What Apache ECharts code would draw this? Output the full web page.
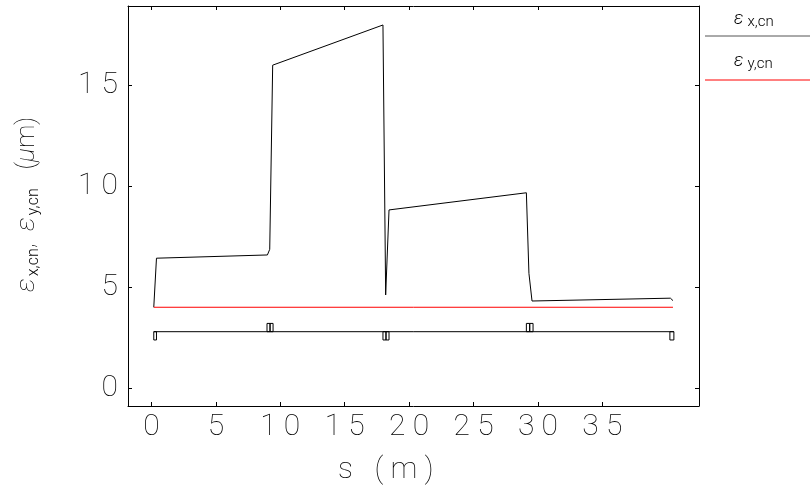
<!DOCTYPE html>
<html><head><meta charset="utf-8">
<script src="https://cdn.jsdelivr.net/npm/echarts@6/dist/echarts.min.js"></script>
<style>html,body{margin:0;padding:0;background:#fff}#c{width:810px;height:487px}</style>
</head><body><div id="c"></div>
<script>
// emittance along the beamline
const sX   = [0.18, 0.39, 9.00, 9.18, 9.41, 17.97, 18.18, 18.44, 29.10, 29.30, 29.54, 40.28, 40.48];
const epsX = [4.01, 6.44, 6.60, 6.88, 16.0, 17.99, 4.62, 8.83, 9.68, 5.69, 4.32, 4.46, 4.34];
const sY   = [0.18, 40.48];
const epsY = [4.01, 4.01];
// lattice elements (quadrupoles): start, end, sign (+ focusing above, - below), number of boxes
const elemStart = [0.18, 8.97, 17.97, 29.10, 40.24];
const elemEnd   = [0.39, 9.44, 18.44, 29.62, 40.55];
const elemSign  = [-1, 1, -1, 1, -1];
const elemParts = [1, 2, 2, 2, 1];
const latticeLevel = 2.80;
const latticeHeight = 0.41;
const xTicks = [0, 5, 10, 15, 20, 25, 30, 35];
const yTicks = [0, 5, 10, 15];

const FONT = 'Roboto';
const chart = echarts.init(document.getElementById('c'), null, {renderer: 'canvas'});
const spaced = v => String(v).split('').join(' ');

const tickStyle = {show: true, inside: true, length: 4, lineStyle: {color: '#000', width: 1}};
const lineStyle = {color: '#000', width: 1};

const elems = elemStart.map((s, i) => [s, elemEnd[i], elemSign[i], elemParts[i]]);

const legendRich = {
  e: {fontFamily: FONT, fontStyle: 'italic', fontWeight: 300, fontSize: 18, fill: '#000', lineHeight: 22},
  s: {fontFamily: FONT, fontWeight: 300, fontSize: 15, fill: '#000', verticalAlign: 'bottom', padding: [0, 0, 0, 4]}
};

chart.setOption({
  animation: false,
  backgroundColor: '#fff',
  grid: {left: 128, top: 6, right: 111, bottom: 81, containLabel: false},
  xAxis: [{
    type: 'value', min: -1.82, max: 42.5, position: 'bottom',
    axisLine: {show: true, onZero: false, lineStyle},
    axisTick: Object.assign({customValues: xTicks}, tickStyle),
    axisLabel: {customValues: xTicks, formatter: spaced, fontFamily: FONT, fontWeight: 100, fontSize: 30, color: '#000', margin: 6},
    splitLine: {show: false}
  }, {
    type: 'value', min: -1.82, max: 42.5, position: 'top',
    axisLine: {show: true, onZero: false, lineStyle},
    axisTick: Object.assign({customValues: xTicks}, tickStyle),
    axisLabel: {show: false},
    splitLine: {show: false}
  }],
  yAxis: [{
    type: 'value', min: -0.88, max: 18.93, position: 'left',
    axisLine: {show: true, onZero: false, lineStyle},
    axisTick: Object.assign({customValues: yTicks}, tickStyle),
    axisLabel: {customValues: yTicks, formatter: spaced, fontFamily: FONT, fontWeight: 100, fontSize: 30, color: '#000', margin: 10},
    splitLine: {show: false}
  }, {
    type: 'value', min: -0.88, max: 18.93, position: 'right',
    axisLine: {show: true, onZero: false, lineStyle},
    axisTick: Object.assign({customValues: yTicks}, tickStyle),
    axisLabel: {show: false},
    splitLine: {show: false}
  }],
  series: [{
    type: 'line', name: 'εx,cn', symbol: 'none',
    data: sX.map((s, i) => [s, epsX[i]]),
    lineStyle: {color: '#000', width: 1}
  }, {
    type: 'line', name: 'εy,cn', symbol: 'none',
    data: sY.map((s, i) => [s, epsY[i]]),
    lineStyle: {color: '#ff0000', width: 1}
  }, {
    type: 'line', symbol: 'none', silent: true,
    data: [[elemStart[0], latticeLevel], [elemEnd[elemEnd.length - 1], latticeLevel]],
    lineStyle: {color: '#000', width: 1}
  }, {
    type: 'custom', silent: true,
    data: elems,
    renderItem: function (params, api) {
      const s0 = api.value(0), s1 = api.value(1), sg = api.value(2), n = api.value(3);
      const children = [];
      for (let k = 0; k < n; k++) {
        const a = s0 + (s1 - s0) * k / n, b = s0 + (s1 - s0) * (k + 1) / n;
        const p0 = api.coord([a, latticeLevel]);
        const p1 = api.coord([b, latticeLevel + sg * latticeHeight]);
        children.push({
          type: 'rect',
          shape: {x: Math.min(p0[0], p1[0]), y: Math.min(p0[1], p1[1]), width: Math.abs(p1[0] - p0[0]), height: Math.abs(p1[1] - p0[1])},
          style: {fill: 'none', stroke: '#000', lineWidth: 1}
        });
      }
      return {type: 'group', children};
    }
  }],
  graphic: [{
    type: 'text', left: 338, top: 455,
    style: {text: 's   ( m )', font: '100 30px ' + FONT, fill: '#000'}
  }, {
    type: 'text', x: 12, y: 292, rotation: Math.PI / 2,
    style: {
      text: '{e|ε}{s|x,cn}{n|,  }{e|ε}{s|y,cn}{n|   (}{e|μ}{n|m)}',
      rich: {
        e: {fontFamily: FONT, fontStyle: 'italic', fontWeight: 100, fontSize: 26, fill: '#000', lineHeight: 30, verticalAlign: 'middle'},
        s: {fontFamily: FONT, fontWeight: 300, fontSize: 16, fill: '#000', verticalAlign: 'bottom', lineHeight: 16, padding: [0, 0, 0, 2]},
        n: {fontFamily: FONT, fontWeight: 100, fontSize: 26, fill: '#000', lineHeight: 30}
      }
    }
  }, {
    type: 'line', shape: {x1: 705, y1: 36, x2: 810, y2: 36}, style: {stroke: '#555', lineWidth: 1}
  }, {
    type: 'line', shape: {x1: 705, y1: 80, x2: 810, y2: 80}, style: {stroke: '#ff0000', lineWidth: 1}
  }, {
    type: 'text', x: 734, y: 8,
    style: {text: '{e|ε}{s|x,cn}', rich: legendRich}
  }, {
    type: 'text', x: 734, y: 50,
    style: {text: '{e|ε}{s|y,cn}', rich: legendRich}
  }]
});
</script></body></html>
